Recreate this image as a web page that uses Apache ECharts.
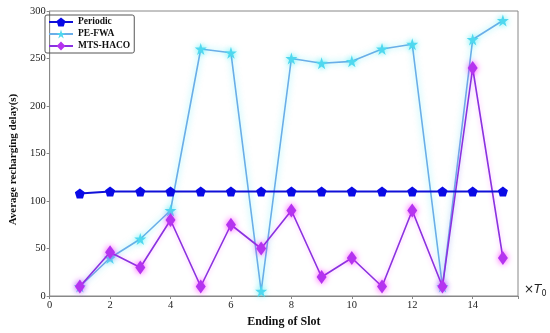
<!DOCTYPE html>
<html><head><meta charset="utf-8">
<script src="https://cdn.jsdelivr.net/npm/echarts@6/dist/echarts.min.js"></script>
<style>html,body{margin:0;padding:0;background:#fff}#c{width:550px;height:333px}</style>
</head><body><div id="c"></div>
<script>
const slots = [1,2,3,4,5,6,7,8,9,10,11,12,13,14,15];
const periodic = [108,110,110,110,110,110,110,110,110,110,110,110,110,110,110];
const peFwa = [10,40,60,90,260,256,5,250,245,247,260,265,10,270,290];
const mtsHaco = [10,46,30,80,10,75,50,90,20,40,10,90,10,240,40];
const xTicks = [0,2,4,6,8,10,12,14];
const yTicks = [0,50,100,150,200,250,300];

const pair = (ys) => slots.map((x,i)=>[x, ys[i]]);
const pentagon = 'path://M0,-1L0.951,-0.309L0.588,0.809L-0.588,0.809L-0.951,-0.309Z';
const star = 'path://M0,-1L0.2245,-0.309L0.951,-0.309L0.363,0.118L0.588,0.809L0,0.382L-0.588,0.809L-0.363,0.118L-0.951,-0.309L-0.2245,-0.309Z';
const serif = '"Liberation Serif","DejaVu Serif",serif';

const chart = echarts.init(document.getElementById('c'));
chart.setOption({
  animation: false,
  grid: {left: 41, right: 32, top: 11, bottom: 37, show: true, borderColor: '#888', borderWidth: 1},
  legend: {
    left: 45, top: 15, orient: 'vertical', itemGap: 2, itemWidth: 24, itemHeight: 11,
    padding: [2,4,2,3],
    borderColor: '#555', borderWidth: 1, borderRadius: 2,
    textStyle: {fontFamily: serif, fontWeight: 'bold', fontSize: 9.5, color: '#111'},
    data: ['Periodic','PE-FWA','MTS-HACO']
  },
  xAxis: {
    type: 'value', min: 0, max: 15.5, interval: 2,
    name: 'Ending of Slot', nameLocation: 'middle', nameGap: 20,
    nameTextStyle: {fontFamily: serif, fontWeight: 'bold', fontSize: 12, color: '#111'},
    axisLine: {show: true, lineStyle: {color: '#888'}},
    axisTick: {show: true, inside: false, length: 3, lineStyle: {color: '#888'}},
    splitLine: {show: false},
    axisLabel: {fontFamily: serif, fontSize: 10.5, color: '#222', margin: 4,
      formatter: v => xTicks.includes(v) ? String(v) : ''}
  },
  yAxis: {
    type: 'value', min: 0, max: 300, interval: 50,
    name: 'Average recharging delay(s)', nameLocation: 'middle', nameGap: 29,
    nameTextStyle: {fontFamily: serif, fontWeight: 'bold', fontSize: 11, color: '#111', padding: [0,0,0,-12]},
    axisLine: {show: true, lineStyle: {color: '#888'}},
    axisTick: {show: true, inside: false, length: 3, lineStyle: {color: '#888'}},
    splitLine: {show: false},
    axisLabel: {fontFamily: serif, fontSize: 10.5, color: '#222', margin: 4,
      formatter: v => yTicks.includes(v) ? String(v) : ''}
  },
  graphic: [{
    type: 'text', left: 524, top: 284,
    style: {
      text: '{a|×}{b|T}{c|0}',
      rich: {
        a: {fontFamily: '"DejaVu Sans",sans-serif', fontSize: 12, fill: '#222'},
        b: {fontFamily: '"DejaVu Sans",sans-serif', fontStyle: 'italic', fontSize: 12, fill: '#222'},
        c: {fontFamily: '"DejaVu Sans",sans-serif', fontSize: 8, fill: '#222', padding: [8,0,0,0]}
      }
    }
  }],
  series: [
    {
      name: 'PE-FWA', type: 'line', data: pair(peFwa),
      symbol: star, symbolSize: 12, z: 2,
      lineStyle: {color: '#6aaee8', width: 1.6, shadowColor: 'rgba(0,230,240,0.5)', shadowBlur: 6},
      itemStyle: {color: '#4fd8ef', shadowColor: 'rgba(0,230,240,0.6)', shadowBlur: 6}
    },
    {
      name: 'MTS-HACO', type: 'line', data: pair(mtsHaco),
      symbol: 'diamond', symbolSize: [10,14], z: 3,
      lineStyle: {color: '#8a32e0', width: 1.6, shadowColor: 'rgba(255,0,255,0.3)', shadowBlur: 5},
      itemStyle: {color: '#b533f0', shadowColor: 'rgba(255,0,255,0.7)', shadowBlur: 6}
    },
    {
      name: 'Periodic', type: 'line', data: pair(periodic),
      symbol: pentagon, symbolSize: 10, z: 4,
      lineStyle: {color: '#1010d8', width: 2},
      itemStyle: {color: '#0a0ae6'}
    }
  ]
});
</script></body></html>
